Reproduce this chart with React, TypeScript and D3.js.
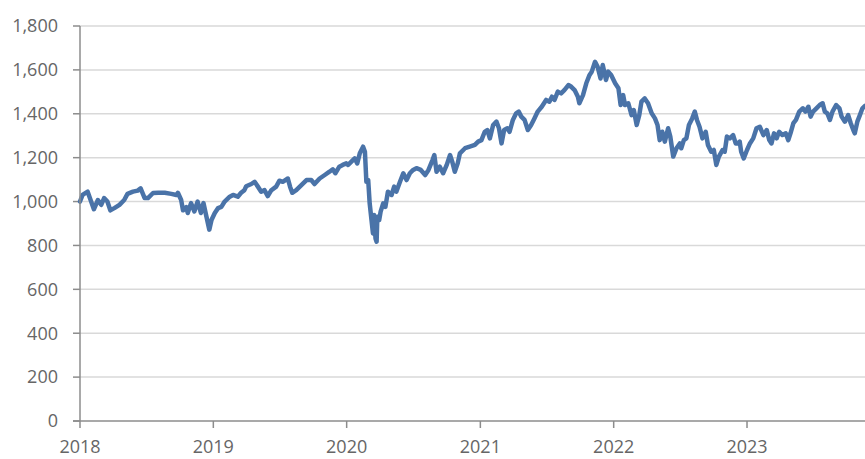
import * as d3 from 'd3';

type Pt = [string, number];

// index level (start of 2018 = 1,000)
const y2018: Pt[] = [
  ['2018-01-01', 1000], ['2018-01-08', 1030], ['2018-01-22', 1045], ['2018-02-08', 965],
  ['2018-02-19', 1007], ['2018-02-28', 985], ['2018-03-08', 1016], ['2018-03-17', 1000],
  ['2018-03-25', 960], ['2018-04-05', 970], ['2018-04-19', 985], ['2018-05-02', 1007],
  ['2018-05-11', 1035], ['2018-05-26', 1045], ['2018-06-08', 1050], ['2018-06-16', 1060],
  ['2018-06-27', 1016], ['2018-07-06', 1016], ['2018-07-20', 1039], ['2018-08-03', 1040],
  ['2018-08-21', 1040], ['2018-09-08', 1035], ['2018-09-22', 1030], ['2018-09-26', 1040],
  ['2018-10-05', 1007], ['2018-10-10', 960], ['2018-10-19', 975], ['2018-10-23', 948],
  ['2018-11-01', 993], ['2018-11-10', 955], ['2018-11-19', 1000], ['2018-11-28', 948],
  ['2018-12-05', 993], ['2018-12-12', 940], ['2018-12-21', 872], ['2018-12-27', 916],
];

const y2019: Pt[] = [
  ['2019-01-05', 948], ['2019-01-14', 970], ['2019-01-23', 976], ['2019-02-01', 1000],
  ['2019-02-15', 1022], ['2019-02-24', 1030], ['2019-03-09', 1022], ['2019-03-18', 1040],
  ['2019-03-27', 1052], ['2019-04-01', 1070], ['2019-04-15', 1080], ['2019-04-24', 1090],
  ['2019-05-03', 1068], ['2019-05-12', 1045], ['2019-05-21', 1052], ['2019-05-30', 1025],
  ['2019-06-08', 1050], ['2019-06-22', 1068], ['2019-07-01', 1095], ['2019-07-10', 1090],
  ['2019-07-24', 1105], ['2019-07-30', 1068], ['2019-08-05', 1040], ['2019-08-16', 1052],
  ['2019-08-30', 1075], ['2019-09-13', 1098], ['2019-09-26', 1098], ['2019-10-05', 1080],
  ['2019-10-19', 1105], ['2019-11-02', 1121], ['2019-11-15', 1136], ['2019-11-24', 1147],
  ['2019-12-01', 1129], ['2019-12-12', 1159], ['2019-12-21', 1167], ['2019-12-31', 1174],
];

const y2020: Pt[] = [
  ['2020-01-05', 1167], ['2020-01-14', 1182], ['2020-01-23', 1197], ['2020-01-30', 1174],
  ['2020-02-06', 1220], ['2020-02-15', 1250], ['2020-02-20', 1227], ['2020-02-24', 1090],
  ['2020-02-29', 1098], ['2020-03-04', 992], ['2020-03-09', 916], ['2020-03-13', 855],
  ['2020-03-16', 939], ['2020-03-20', 832], ['2020-03-23', 817], ['2020-03-25', 931],
  ['2020-03-30', 916], ['2020-04-03', 954], ['2020-04-10', 992], ['2020-04-16', 976],
  ['2020-04-23', 1045], ['2020-05-03', 1030], ['2020-05-10', 1068], ['2020-05-16', 1045],
  ['2020-05-26', 1090], ['2020-06-04', 1129], ['2020-06-13', 1098], ['2020-06-22', 1129],
  ['2020-07-01', 1144], ['2020-07-10', 1152], ['2020-07-22', 1144], ['2020-08-03', 1121],
  ['2020-08-12', 1144], ['2020-08-23', 1189], ['2020-08-28', 1212], ['2020-09-03', 1136],
  ['2020-09-12', 1159], ['2020-09-21', 1129], ['2020-10-01', 1167], ['2020-10-10', 1212],
  ['2020-10-16', 1182], ['2020-10-23', 1136], ['2020-10-31', 1174], ['2020-11-06', 1220],
  ['2020-11-20', 1243], ['2020-12-03', 1250], ['2020-12-17', 1258], ['2020-12-26', 1273],
];

const y2021: Pt[] = [
  ['2021-01-04', 1280], ['2021-01-13', 1318], ['2021-01-20', 1326], ['2021-01-27', 1288],
  ['2021-02-05', 1349], ['2021-02-14', 1364], ['2021-02-21', 1334], ['2021-02-28', 1265],
  ['2021-03-07', 1326], ['2021-03-16', 1334], ['2021-03-22', 1318], ['2021-03-31', 1372],
  ['2021-04-09', 1402], ['2021-04-16', 1410], ['2021-04-23', 1387], ['2021-05-02', 1372],
  ['2021-05-11', 1326], ['2021-05-20', 1349], ['2021-05-29', 1379], ['2021-06-07', 1410],
  ['2021-06-18', 1432], ['2021-06-30', 1463], ['2021-07-09', 1455], ['2021-07-16', 1478],
  ['2021-07-23', 1463], ['2021-08-01', 1501], ['2021-08-10', 1493], ['2021-08-19', 1508],
  ['2021-08-30', 1531], ['2021-09-07', 1523], ['2021-09-16', 1508], ['2021-09-25', 1478],
  ['2021-09-29', 1448], ['2021-10-09', 1485], ['2021-10-18', 1539], ['2021-10-27', 1577],
  ['2021-11-02', 1592], ['2021-11-11', 1637], ['2021-11-18', 1614], ['2021-11-26', 1561],
  ['2021-12-02', 1622], ['2021-12-11', 1554], ['2021-12-17', 1592], ['2021-12-25', 1577],
];

const y2022: Pt[] = [
  ['2022-01-05', 1539], ['2022-01-14', 1516], ['2022-01-20', 1440], ['2022-01-27', 1485],
  ['2022-02-01', 1440], ['2022-02-10', 1448], ['2022-02-19', 1394], ['2022-02-25', 1417],
  ['2022-03-05', 1349], ['2022-03-12', 1394], ['2022-03-18', 1455], ['2022-03-27', 1470],
  ['2022-04-05', 1448], ['2022-04-15', 1402], ['2022-04-24', 1379], ['2022-05-01', 1349],
  ['2022-05-07', 1280], ['2022-05-14', 1318], ['2022-05-21', 1273], ['2022-05-30', 1334],
  ['2022-06-05', 1296], ['2022-06-13', 1205], ['2022-06-22', 1243], ['2022-07-01', 1265],
  ['2022-07-05', 1243], ['2022-07-12', 1280], ['2022-07-19', 1288], ['2022-07-26', 1349],
  ['2022-08-04', 1379], ['2022-08-11', 1410], ['2022-08-17', 1372], ['2022-08-24', 1341],
  ['2022-09-01', 1288], ['2022-09-10', 1318], ['2022-09-16', 1258], ['2022-09-25', 1227],
  ['2022-10-02', 1235], ['2022-10-09', 1167], ['2022-10-16', 1205], ['2022-10-26', 1235],
  ['2022-11-01', 1227], ['2022-11-07', 1296], ['2022-11-15', 1288], ['2022-11-24', 1303],
  ['2022-12-01', 1265], ['2022-12-07', 1265], ['2022-12-12', 1273], ['2022-12-16', 1227],
  ['2022-12-23', 1197],
];

const y2023: Pt[] = [
  ['2023-01-01', 1235], ['2023-01-09', 1265], ['2023-01-18', 1288], ['2023-01-27', 1334],
  ['2023-02-05', 1341], ['2023-02-15', 1303], ['2023-02-24', 1326], ['2023-03-03', 1280],
  ['2023-03-09', 1265], ['2023-03-16', 1311], ['2023-03-23', 1288], ['2023-03-30', 1318],
  ['2023-04-08', 1303], ['2023-04-17', 1311], ['2023-04-24', 1280], ['2023-04-30', 1311],
  ['2023-05-08', 1357], ['2023-05-15', 1372], ['2023-05-24', 1410], ['2023-06-03', 1425],
  ['2023-06-10', 1410], ['2023-06-18', 1432], ['2023-06-24', 1387], ['2023-07-01', 1410],
  ['2023-07-10', 1425], ['2023-07-19', 1440], ['2023-07-27', 1448], ['2023-08-02', 1410],
  ['2023-08-09', 1402], ['2023-08-16', 1372], ['2023-08-23', 1410], ['2023-09-02', 1440],
  ['2023-09-11', 1425], ['2023-09-17', 1387], ['2023-09-26', 1364], ['2023-10-05', 1394],
  ['2023-10-12', 1357], ['2023-10-19', 1326], ['2023-10-23', 1311], ['2023-10-30', 1364],
  ['2023-11-06', 1394], ['2023-11-13', 1425], ['2023-11-20', 1436],
];

const yTicks = [0, 200, 400, 600, 800, 1000, 1200, 1400, 1600, 1800];
const xTickYears = [2018, 2019, 2020, 2021, 2022, 2023];

const W = 865;
const H = 459;
const margin = { top: 26, right: 0, bottom: 38, left: 80 };
const FONT = '"Open Sans", "Noto Sans", sans-serif';
const LABEL = '#666666';
const AXIS = '#8c8c8c';
const GRID = '#d9d9d9';

export default function App(): React.ReactNode {
  const parse = d3.utcParse('%Y-%m-%d');
  const series = [...y2018, ...y2019, ...y2020, ...y2021, ...y2022, ...y2023].map(
    ([d, v]) => ({ date: parse(d) as Date, value: v }),
  );

  const x = d3
    .scaleUtc()
    .domain([parse('2018-01-01') as Date, series[series.length - 1].date])
    .range([margin.left, W - margin.right]);
  const y = d3
    .scaleLinear()
    .domain([0, 1800])
    .range([H - margin.bottom, margin.top]);

  const path =
    d3
      .line<{ date: Date; value: number }>()
      .x((d) => x(d.date))
      .y((d) => y(d.value))(series) ?? '';

  const y0 = y(0);

  return (
    <svg
      width={W}
      height={H}
      style={{ position: 'absolute', left: 0, top: 0, background: '#fff' }}
      fontFamily={FONT}
    >
      {yTicks.map((t) => (
        <g key={t}>
          {t > 0 && (
            <line x1={margin.left} x2={W} y1={y(t)} y2={y(t)} stroke={GRID} strokeWidth={1.5} />
          )}
          <line x1={margin.left - 7} x2={margin.left} y1={y(t)} y2={y(t)} stroke={AXIS} strokeWidth={1.5} />
          <text
            x={margin.left - 22}
            y={y(t)}
            dy="0.35em"
            textAnchor="end"
            fontSize={18}
            fill={LABEL}
          >
            {d3.format(',')(t)}
          </text>
        </g>
      ))}
      <path
        d={path}
        fill="none"
        stroke="#4a73a8"
        strokeWidth={4.5}
        strokeLinejoin="round"
        strokeLinecap="round"
      />
      <line x1={margin.left} x2={margin.left} y1={y(1800)} y2={y0} stroke={AXIS} strokeWidth={1.5} />
      <line x1={margin.left - 7} x2={W} y1={y0} y2={y0} stroke={AXIS} strokeWidth={1.5} />
      {xTickYears.map((yr) => {
        const xp = x(new Date(Date.UTC(yr, 0, 1)));
        return (
          <g key={yr}>
            <line x1={xp} x2={xp} y1={y0} y2={y0 + 7} stroke={AXIS} strokeWidth={1.5} />
            <text x={xp} y={H - 6} textAnchor="middle" fontSize={18} fill={LABEL}>
              {yr}
            </text>
          </g>
        );
      })}
    </svg>
  );
}
